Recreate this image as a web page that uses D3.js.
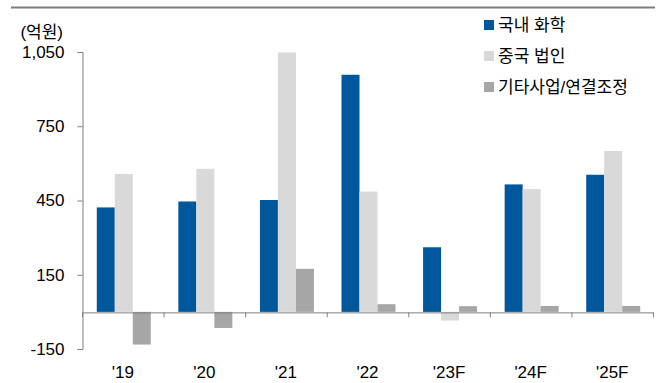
<!DOCTYPE html>
<html><head><meta charset="utf-8">
<script src="https://cdn.jsdelivr.net/npm/d3@7"></script>
<style>
html,body{margin:0;padding:0;background:#fff;}
svg{display:block;font-family:"Liberation Sans","Noto Sans CJK KR",Arial,sans-serif;}
</style></head>
<body>
<script>
const categories = ["'19","'20","'21","'22","'23F","'24F","'25F"];
const seriesNames = ["국내 화학","중국 법인","기타사업/연결조정"];
const domestic = [422, 446, 452, 958, 261, 515, 554];
const china = [557, 578, 1048, 486, -35, 496, 650];
const others = [-132, -65, 174, 31, 23, 24, 24];
const yTicks = [-150, 150, 450, 750, 1050];
const unitLabel = "(억원)";
const colors = ["#00579c", "#d9d9d9", "#a6a6a6"];

const W = 662, H = 383;
const FS = 17;
const svg = d3.select("body").append("svg").attr("width", W).attr("height", H);

// top rule
svg.append("line").attr("x1", 11).attr("x2", 655).attr("y1", 7.5).attr("y2", 7.5)
  .attr("stroke", "#7f7f7f").attr("stroke-width", 2);

const x = d3.scaleBand().domain(categories).range([82, 653]).paddingInner(0).paddingOuter(0);
const y = d3.scaleLinear().domain([-150, 1050]).range([349, 52]);
const xs = d3.scaleBand().domain(seriesNames).range([0, 54]);

const data = [domestic, china, others];
const g = svg.append("g");
categories.forEach((c, i) => {
  const gx = x(c) + (x.bandwidth() - 54) / 2 + 1;
  seriesNames.forEach((s, k) => {
    const v = data[k][i];
    g.append("rect")
      .attr("x", gx + xs(s))
      .attr("width", xs.bandwidth())
      .attr("y", y(Math.max(0, v)))
      .attr("height", Math.abs(y(v) - y(0)))
      .attr("fill", colors[k]);
  });
});

// y axis
const fmt = d3.format(",");
const yAxis = svg.append("g").attr("transform", "translate(82.5,0)")
  .call(d3.axisLeft(y).tickValues(yTicks).tickFormat(d => fmt(d).replace("−", "-")).tickSizeOuter(0).tickSize(5).tickPadding(13));
yAxis.select(".domain").attr("stroke", "#7f7f7f");
yAxis.selectAll(".tick line").attr("stroke", "#7f7f7f");
yAxis.selectAll("text").attr("font-size", FS).attr("fill", "#000");

// x axis at zero
const xAxis = svg.append("g").attr("transform", `translate(0,${y(0) + 0.5})`)
  .call(d3.axisBottom(x).tickSize(0).tickSizeOuter(0));
xAxis.select(".domain").attr("stroke", "#7f7f7f");
xAxis.selectAll("text").attr("font-size", FS).attr("fill", "#000").attr("dy", "0.35em").attr("y", 60);
// boundary ticks
const bounds = categories.map(c => x(c)).concat([x.range()[1]]);
xAxis.selectAll(".bound").data(bounds).enter().append("line")
  .attr("x1", d => d + 0.5).attr("x2", d => d + 0.5).attr("y1", 0).attr("y2", 5)
  .attr("stroke", "#7f7f7f");

// unit label
svg.append("text").attr("x", 63).attr("y", 32).attr("text-anchor", "end")
  .attr("dominant-baseline", "central").attr("font-size", FS).text(unitLabel);

// legend
const lg = svg.append("g");
seriesNames.forEach((s, k) => {
  const yy = 25 + k * 31;
  lg.append("rect").attr("x", 484).attr("y", yy - 5).attr("width", 10).attr("height", 10).attr("fill", colors[k]);
  lg.append("text").attr("x", 498).attr("y", yy).attr("dominant-baseline", "central")
    .attr("font-size", FS).text(s);
});
</script>
</body></html>
